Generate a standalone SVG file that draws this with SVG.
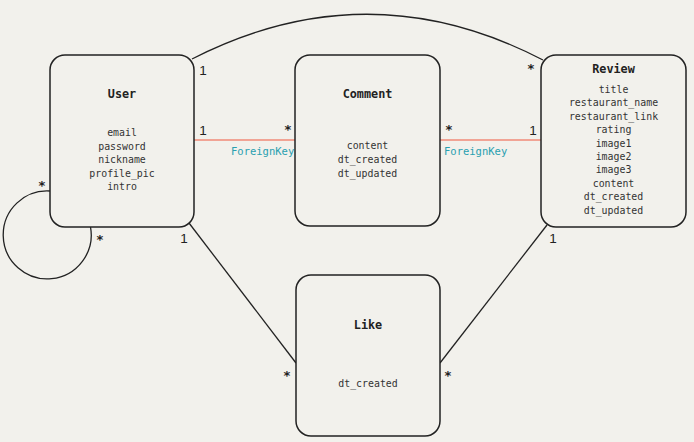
<svg xmlns="http://www.w3.org/2000/svg" width="694" height="442" viewBox="0 0 694 442">
<style>
.bg{fill:#f2f1ec}
.box{fill:#f2f1ec;stroke:#222;stroke-width:1.5}
.title{font-family:"DejaVu Sans Mono",monospace;font-size:11.8px;font-weight:bold;fill:#222;text-anchor:middle}
.attr{font-family:"DejaVu Sans Mono",monospace;font-size:9.9px;fill:#333;text-anchor:middle}
.edge{fill:none;stroke:#222;stroke-width:1.3}
.fk{fill:none;stroke:#f08a78;stroke-width:1.5}
.fkl{font-family:"DejaVu Sans Mono",monospace;font-size:10.5px;fill:#2aa0b0}
.card{font-family:"Liberation Sans",Arial,sans-serif;font-size:13.5px;fill:#222;text-anchor:middle}
.star{font-family:"DejaVu Sans Mono",monospace;font-size:13px;font-weight:bold;fill:#222;text-anchor:middle}
</style>
<rect class="bg" x="0" y="0" width="694" height="442"/>
<g id="connectors">
<path class="edge" d="M192 59 Q368 -31 543 60"/>
<path class="fk" d="M194 140 H295"/>
<path class="fk" d="M440 140 H541"/>
<text class="fkl" x="231" y="155">ForeignKey</text>
<text class="fkl" x="444" y="155">ForeignKey</text>
<path class="edge" d="M50 191 A44 44 0 1 0 90.5 227"/>
<path class="edge" d="M189 223 L296 363"/>
<path class="edge" d="M547 225 L440 363"/>
<text class="card" x="203" y="75">1</text>
<text class="star" x="531" y="73">*</text>
<text class="card" x="203" y="135">1</text>
<text class="star" x="288" y="134">*</text>
<text class="star" x="449" y="134">*</text>
<text class="card" x="533" y="135">1</text>
<text class="star" x="42" y="190">*</text>
<text class="star" x="100" y="244">*</text>
<text class="card" x="184" y="243">1</text>
<text class="card" x="553" y="243">1</text>
<text class="star" x="287" y="380">*</text>
<text class="star" x="448" y="380">*</text>
</g>
<g id="user">
<rect class="box" x="50" y="55" width="144" height="172" rx="15"/>
<text class="title" x="122" y="98">User</text>
<text class="attr" x="122" y="136">email</text>
<text class="attr" x="122" y="149.5">password</text>
<text class="attr" x="122" y="163">nickname</text>
<text class="attr" x="122" y="176.5">profile_pic</text>
<text class="attr" x="122" y="190">intro</text>
</g>
<g id="comment">
<rect class="box" x="295" y="55" width="145" height="171" rx="15"/>
<text class="title" x="367.5" y="98">Comment</text>
<text class="attr" x="367.5" y="149">content</text>
<text class="attr" x="367.5" y="163">dt_created</text>
<text class="attr" x="367.5" y="177">dt_updated</text>
</g>
<g id="review">
<rect class="box" x="541" y="55" width="145" height="172" rx="15"/>
<text class="title" x="613.5" y="73">Review</text>
<text class="attr" x="613.5" y="93">title</text>
<text class="attr" x="613.5" y="106.4">restaurant_name</text>
<text class="attr" x="613.5" y="119.8">restaurant_link</text>
<text class="attr" x="613.5" y="133.2">rating</text>
<text class="attr" x="613.5" y="146.6">image1</text>
<text class="attr" x="613.5" y="160">image2</text>
<text class="attr" x="613.5" y="173.4">image3</text>
<text class="attr" x="613.5" y="186.8">content</text>
<text class="attr" x="613.5" y="200.2">dt_created</text>
<text class="attr" x="613.5" y="213.6">dt_updated</text>
</g>
<g id="like">
<rect class="box" x="296" y="275" width="144" height="161" rx="15"/>
<text class="title" x="368" y="329">Like</text>
<text class="attr" x="368" y="387">dt_created</text>
</g>
</svg>
